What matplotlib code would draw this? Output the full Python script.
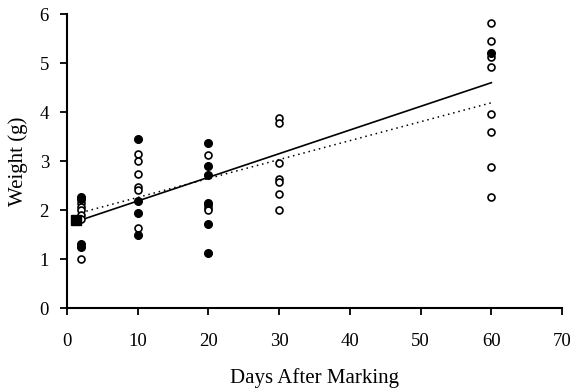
import matplotlib
matplotlib.use('Agg')
import matplotlib.pyplot as plt

# weight of fish vs days after marking

# open circles
open_days = [2, 2, 2, 2, 2, 2,
             10, 10, 10, 10, 10, 10,
             20, 20, 20, 20,
             30, 30, 30, 30, 30, 30, 30,
             60, 60, 60, 60, 60, 60, 60, 60]
open_weights = [2.15, 2.07, 2.0, 1.9, 1.82, 1.01,
                3.14, 3.01, 2.73, 2.48, 2.41, 1.64,
                3.12, 2.10, 2.05, 2.0,
                3.87, 3.77, 2.97, 2.63, 2.58, 2.33, 2.0,
                5.81, 5.46, 5.13, 4.91, 3.96, 3.59, 2.87, 2.27]

# filled circles
filled_days = [2, 2, 2, 2,
               10, 10, 10, 10,
               20, 20, 20, 20, 20, 20,
               60]
filled_weights = [2.27, 2.22, 1.31, 1.25,
                  3.45, 2.19, 1.95, 1.49,
                  3.37, 2.90, 2.71, 2.15, 1.71, 1.13,
                  5.20]

# initial weight marker
start_day = [1.2]
start_weight = [1.8]

# regression lines
fit_days = [2, 60]
fit_solid = [1.8, 4.6]
fit_dotted = [1.95, 4.19]

plt.rcParams['font.family'] = 'Liberation Serif'

fig = plt.figure(figsize=(5.73, 3.91), dpi=100)
ax = fig.add_axes([0.117, 0.212, 0.864, 0.752])

ax.plot(fit_days, fit_solid, color='black', linewidth=1.2)
ax.plot(fit_days, fit_dotted, color='black', linewidth=1.1, linestyle=(0, (1, 2.5)))

ax.plot(open_days, open_weights, 'o', markersize=5, markerfacecolor='white',
        markeredgecolor='black', markeredgewidth=1.2, linestyle='none')
ax.plot(filled_days, filled_weights, 'o', markersize=5.5, color='black', linestyle='none')
ax.plot(start_day, start_weight, 's', markersize=7, color='black', linestyle='none')

ax.set_xlim(0, 70)
ax.set_ylim(0, 6)
ax.set_xticks(range(0, 71, 10))
ax.set_yticks(range(0, 7))

ax.spines['top'].set_visible(False)
ax.spines['right'].set_visible(False)
ax.spines['left'].set_linewidth(1.5)
ax.spines['bottom'].set_linewidth(1.5)
ax.tick_params(axis='both', direction='out', length=5, width=1.3, labelsize=13.5)
ax.tick_params(axis='x', pad=13)
ax.tick_params(axis='y', pad=8)

ax.set_xlabel('Days After Marking', fontsize=15, labelpad=13)
ax.set_ylabel('Weight (g)', fontsize=15, labelpad=8)

plt.savefig('out.png', dpi=100)
